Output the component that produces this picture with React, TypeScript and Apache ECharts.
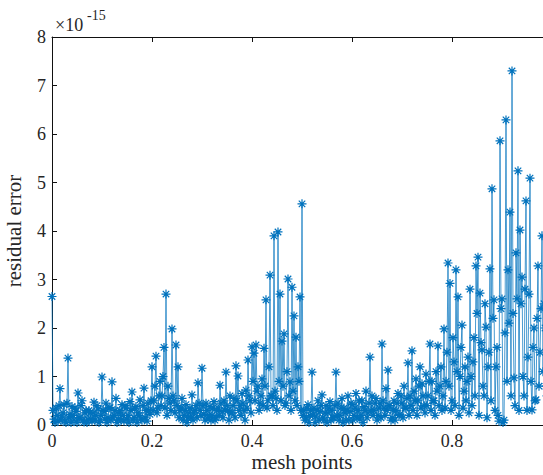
import React, { useEffect, useRef } from "react";
import * as echarts from "echarts";

// x spacing between consecutive mesh points
const STEP = 0.002;

// residual error (×1e-15) at even mesh points x = 0.004k, one row per 0.04 of x
const evenRow00 = [2.65, 0.12, 0.35, 0.08, 0.75, 0.18, 0.42, 0.05, 1.38, 0.22];
const evenRow01 = [0.38, 0.1, 0.28, 0.66, 0.15, 0.5, 0.06, 0.3, 0.12, 0.25];
const evenRow02 = [0.08, 0.47, 0.2, 0.33, 0.1, 0.99, 0.28, 0.45, 0.15, 0.36];
const evenRow03 = [0.89, 0.2, 0.55, 0.12, 0.3, 0.42, 0.08, 0.35, 0.2, 0.48];
const evenRow04 = [0.68, 0.15, 0.38, 0.25, 0.52, 0.1, 0.76, 0.3, 0.45, 0.22];
const evenRow05 = [1.2, 0.5, 1.42, 0.35, 0.9, 0.6, 1.6, 2.7, 0.8, 0.45];
const evenRow06 = [1.98, 0.5, 1.65, 1.2, 0.3, 0.55, 0.2, 0.42, 0.15, 0.35];
const evenRow07 = [0.62, 0.25, 0.4, 0.87, 0.3, 1.17, 0.22, 0.45, 0.12, 0.38];
const evenRow08 = [0.2, 0.48, 0.15, 0.35, 0.82, 0.28, 0.5, 1.09, 0.3, 0.6];
const evenRow09 = [0.25, 0.55, 1.22, 1.01, 0.4, 0.65, 0.3, 0.72, 1.34, 0.5];
const evenRow10 = [1.61, 1.48, 1.65, 0.8, 0.45, 0.95, 1.58, 2.58, 0.5, 3.09];
const evenRow11 = [0.6, 3.9, 0.55, 3.98, 2.7, 1.73, 1.88, 0.45, 3.01, 0.89];
const evenRow12 = [2.84, 2.25, 1.81, 1.2, 2.64, 4.56, 0.3, 0.15, 0.42, 0.2];
const evenRow13 = [1.09, 0.35, 0.18, 0.5, 0.28, 0.62, 0.1, 0.4, 0.25, 0.48];
const evenRow14 = [0.3, 0.15, 1.09, 0.45, 0.2, 0.55, 0.35, 0.1, 0.6, 0.28];
const evenRow15 = [0.42, 0.2, 0.65, 0.3, 0.12, 0.5, 0.38, 0.7, 0.25, 1.4];
const evenRow16 = [0.6, 0.3, 0.55, 0.2, 0.45, 1.67, 0.35, 0.75, 1.13, 0.4];
const evenRow17 = [0.15, 0.5, 0.3, 0.65, 0.22, 0.45, 0.8, 0.35, 1.28, 0.6];
const evenRow18 = [1.53, 0.7, 0.95, 0.5, 1.2, 0.85, 0.4, 1.05, 0.6, 1.67];
const evenRow19 = [0.9, 0.5, 1.1, 1.63, 0.8, 0.3, 1.98, 0.9, 3.34, 2.92];
const evenRow20 = [0.5, 1.3, 3.2, 2.64, 1.0, 2.06, 0.7, 0.5, 1.4, 2.8];
const evenRow21 = [0.4, 1.8, 3.28, 3.46, 2.72, 1.55, 0.6, 2.02, 1.2, 3.22];
const evenRow22 = [4.87, 2.58, 1.2, 0.2, 5.86, 2.6, 0.1, 6.29, 3.2, 4.39];
const evenRow23 = [7.3, 0.97, 3.55, 5.24, 4.02, 3.05, 0.6, 4.62, 1.4, 5.09];
const evenRow24 = [0.31, 2.0, 0.52, 3.28, 1.5, 3.9, 2.5, 0.8, 3.0, 1.2];

// residual error at odd mesh points x = 0.002 + 0.004k
const oddRow00 = [0.3, 0.05, 0.2, 0.4, 0.1, 0.25, 0.08, 0.45, 0.15, 0.05];
const oddRow01 = [0.2, 0.35, 0.05, 0.15, 0.4, 0.1, 0.25, 0.05, 0.3, 0.12];
const oddRow02 = [0.25, 0.1, 0.4, 0.05, 0.2, 0.3, 0.12, 0.05, 0.35, 0.1];
const oddRow03 = [0.15, 0.3, 0.05, 0.25, 0.1, 0.2, 0.4, 0.12, 0.05, 0.3];
const oddRow04 = [0.1, 0.35, 0.05, 0.2, 0.12, 0.4, 0.15, 0.08, 0.3, 0.5];
const oddRow05 = [0.3, 0.8, 0.25, 0.6, 0.4, 1.0, 0.35, 0.2, 0.55, 0.3];
const oddRow06 = [0.6, 0.25, 0.4, 0.15, 0.35, 0.1, 0.3, 0.05, 0.25, 0.15];
const oddRow07 = [0.1, 0.3, 0.15, 0.45, 0.2, 0.4, 0.1, 0.3, 0.2, 0.1];
const oddRow08 = [0.35, 0.1, 0.3, 0.2, 0.45, 0.15, 0.3, 0.4, 0.1, 0.25];
const oddRow09 = [0.4, 0.15, 0.5, 0.3, 0.2, 0.45, 0.1, 0.35, 0.6, 0.25];
const oddRow10 = [0.9, 0.5, 0.7, 0.3, 0.6, 0.4, 0.8, 0.35, 1.2, 0.6];
const oddRow11 = [0.4, 0.7, 0.3, 0.9, 0.5, 0.8, 0.4, 1.1, 0.6, 0.3];
const oddRow12 = [0.7, 0.5, 0.4, 0.9, 0.3, 0.2, 0.1, 0.35, 0.05, 0.3];
const oddRow13 = [0.2, 0.05, 0.3, 0.1, 0.4, 0.15, 0.25, 0.05, 0.35, 0.1];
const oddRow14 = [0.15, 0.4, 0.2, 0.1, 0.35, 0.05, 0.25, 0.3, 0.1, 0.45];
const oddRow15 = [0.1, 0.35, 0.15, 0.5, 0.2, 0.05, 0.3, 0.15, 0.45, 0.3];
const oddRow16 = [0.2, 0.45, 0.1, 0.35, 0.15, 0.5, 0.2, 0.3, 0.4, 0.1];
const oddRow17 = [0.3, 0.1, 0.45, 0.2, 0.6, 0.15, 0.35, 0.55, 0.2, 0.4];
const oddRow18 = [0.3, 0.5, 0.2, 0.8, 0.35, 0.6, 0.25, 0.4, 0.9, 0.3];
const oddRow19 = [0.5, 0.2, 0.7, 0.4, 1.2, 0.6, 0.35, 1.5, 0.8, 0.3];
const oddRow20 = [1.8, 0.4, 1.1, 0.2, 1.6, 0.35, 1.2, 0.9, 0.25, 1.0];
const oddRow21 = [1.3, 0.6, 2.3, 0.2, 1.7, 0.8, 2.5, 0.15, 1.5, 0.5];
const oddRow22 = [2.2, 0.3, 1.6, 0.08, 2.4, 0.05, 1.9, 0.9, 2.1, 0.6];
const oddRow23 = [2.3, 0.4, 2.6, 0.3, 2.5, 1.0, 2.8, 0.3, 2.7, 0.9];
const oddRow24 = [1.6, 0.5, 2.2, 0.8, 2.4, 1.1, 2.0, 0.6, 1.8, 0.9];

const evenPoints = [
  ...evenRow00, ...evenRow01, ...evenRow02, ...evenRow03, ...evenRow04,
  ...evenRow05, ...evenRow06, ...evenRow07, ...evenRow08, ...evenRow09,
  ...evenRow10, ...evenRow11, ...evenRow12, ...evenRow13, ...evenRow14,
  ...evenRow15, ...evenRow16, ...evenRow17, ...evenRow18, ...evenRow19,
  ...evenRow20, ...evenRow21, ...evenRow22, ...evenRow23, ...evenRow24,
];
const oddPoints = [
  ...oddRow00, ...oddRow01, ...oddRow02, ...oddRow03, ...oddRow04,
  ...oddRow05, ...oddRow06, ...oddRow07, ...oddRow08, ...oddRow09,
  ...oddRow10, ...oddRow11, ...oddRow12, ...oddRow13, ...oddRow14,
  ...oddRow15, ...oddRow16, ...oddRow17, ...oddRow18, ...oddRow19,
  ...oddRow20, ...oddRow21, ...oddRow22, ...oddRow23, ...oddRow24,
];

const xTicks = [0, 0.2, 0.4, 0.6, 0.8, 1];
const yTicks = [0, 1, 2, 3, 4, 5, 6, 7, 8];

const BLUE = "#0072BD";
const FONT = "'Liberation Serif', 'Times New Roman', serif";
const TEXT = "#262626";
const ASTERISK =
  "path://M0,-1L0,1M-1,0L1,0M-0.72,-0.72L0.72,0.72M-0.72,0.72L0.72,-0.72";

export default function App() {
  const ref = useRef<HTMLDivElement>(null);
  useEffect(() => {
    if (!ref.current) return;
    const chart = echarts.init(ref.current, undefined, { renderer: "svg" });
    const values: number[] = [];
    evenPoints.forEach((v, k) => {
      values.push(v);
      if (k < oddPoints.length) values.push(oddPoints[k]);
    });
    const data = values.map((v, i) => [+(i * STEP).toFixed(4), v]);
    const axisLabel = { fontFamily: FONT, fontSize: 18, color: TEXT };
    const axisLine = { show: true, onZero: false, lineStyle: { color: "#111", width: 1 } };
    const axisTick = { show: true, inside: true, length: 5, lineStyle: { color: "#111" } };
    chart.setOption({
      animation: false,
      backgroundColor: "#ffffff",
      grid: {
        left: 52,
        top: 37,
        width: 500,
        height: 388,
        containLabel: false,
        outerBoundsMode: "none",
      },
      xAxis: [
        {
          type: "value",
          min: xTicks[0],
          max: xTicks[xTicks.length - 1],
          interval: 0.2,
          position: "bottom",
          axisLine,
          axisTick,
          axisLabel: {
            ...axisLabel,
            margin: 7,
            showMaxLabel: false,
            formatter: (v: number) => (v === 0 ? "0" : String(+v.toFixed(1))),
          },
          splitLine: { show: false },
          name: "mesh points",
          nameLocation: "middle",
          nameGap: 26,
          nameMoveOverlap: false,
          nameTextStyle: { fontFamily: FONT, fontSize: 21, color: TEXT },
        },
        {
          type: "value",
          min: xTicks[0],
          max: xTicks[xTicks.length - 1],
          interval: 0.2,
          position: "top",
          axisLine,
          axisTick,
          axisLabel: { show: false },
          splitLine: { show: false },
        },
      ],
      yAxis: [
        {
          type: "value",
          min: yTicks[0],
          max: yTicks[yTicks.length - 1],
          interval: 1,
          axisLine,
          axisTick,
          axisLabel: { ...axisLabel, margin: 6 },
          splitLine: { show: false },
          name: "residual error",
          nameLocation: "middle",
          nameGap: 28,
          nameMoveOverlap: false,
          nameRotate: 90,
          nameTextStyle: { fontFamily: FONT, fontSize: 21, color: TEXT },
        },
      ],
      graphic: [
        {
          type: "text",
          x: 55,
          y: 16,
          style: {
            text: "×10",
            fontFamily: FONT,
            fontSize: 18,
            fill: TEXT,
            verticalAlign: "top",
          },
        },
        {
          type: "text",
          x: 87,
          y: 8,
          style: {
            text: "-15",
            fontFamily: FONT,
            fontSize: 14,
            fill: TEXT,
            verticalAlign: "top",
          },
        },
      ],
      series: [
        {
          type: "line",
          data,
          symbol: ASTERISK,
          symbolSize: 9,
          showAllSymbol: true,
          lineStyle: { color: BLUE, width: 0.9, opacity: 0.8 },
          itemStyle: { color: "none", borderColor: BLUE, borderWidth: 1.2 },
        },
      ],
    });
    return () => chart.dispose();
  }, []);
  return (
    <div
      ref={ref}
      style={{ width: 543, height: 475, position: "fixed", left: 0, top: 0 }}
    />
  );
}
